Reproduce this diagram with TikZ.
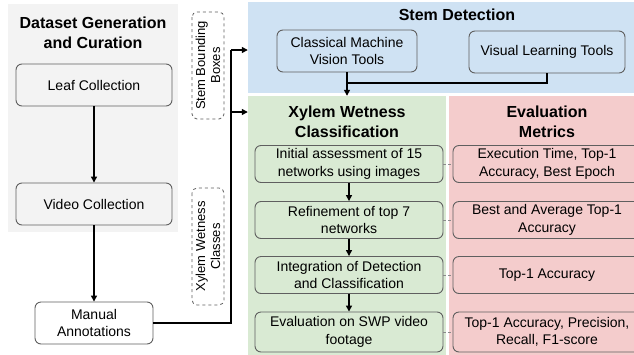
\documentclass[tikz,border=0pt]{standalone}
\usepackage{fontspec}
\setmainfont{Liberation Sans}
\usetikzlibrary{arrows.meta,calc}
\definecolor{graybg}{HTML}{F3F3F3}
\definecolor{bluebg}{HTML}{CFE2F3}
\definecolor{greenbg}{HTML}{D9EAD3}
\definecolor{redbg}{HTML}{F4CCCC}
\definecolor{boxline}{HTML}{5F5F5F}
\definecolor{dashgray}{HTML}{8A8A8A}
\tikzset{
  panel/.style={draw=none, inner sep=0pt, anchor=center},
  box/.style={draw=boxline, line width=0.9pt, rounded corners=6pt, align=center, inner sep=0pt,
    font=\fontsize{14}{17.5}\selectfont},
  lbl/.style={align=center, inner sep=0pt, font=\fontsize{14}{17.5}\selectfont},
  dbox/.style={draw=boxline, dashed, line width=0.8pt, rounded corners=5pt, align=center, inner sep=0pt,
    rotate=90, font=\fontsize{13}{15}\selectfont},
  title/.style={align=center, inner sep=0pt, font=\fontsize{16}{20}\selectfont\bfseries},
  conn/.style={draw=black, line width=1.3pt},
  arr/.style={conn, -{Triangle[length=6pt,width=6pt]}},
  dline/.style={draw=dashgray, dashed, line width=0.6pt, dash pattern=on 3pt off 2pt}
}
\begin{document}
\begin{tikzpicture}[x=1pt,y=-1pt]
\useasboundingbox (0,0) rectangle (634,354);
\fill[white] (0,0) rectangle (634,354);
\begin{scope}
\clip (0,0) rectangle (634,354);
% panels
\node[panel, fill=graybg, minimum width=170pt, minimum height=228pt] (gray) at (93,118) {};
\node[panel, fill=bluebg, minimum width=400pt, minimum height=91pt] (blue) at (448,47.5) {};
\node[panel, fill=greenbg, minimum width=198pt, minimum height=260pt] (green) at (347,226) {};
\node[panel, fill=redbg, minimum width=211pt, minimum height=260pt] (red) at (554.5,226) {};
% titles
\node[title] (t1) at (93,33) {Dataset Generation\\and Curation};
\node[title] (t2) at (457,15) {Stem Detection};
\node[title] (t3) at (347,122) {Xylem Wetness\\Classification};
\node[title] (t4) at (547,122) {Evaluation\\Metrics};
% left column
\node[box, fill=graybg, minimum width=156pt, minimum height=42pt] (leaf) at (94,85) {Leaf Collection};
\node[box, fill=graybg, minimum width=156pt, minimum height=42pt] (video) at (94,204) {Video Collection};
\node[box, fill=white, minimum width=118pt, minimum height=42pt] (manual) at (94,323) {Manual\\Annotations};
% dashed labels
\node[dbox, minimum width=107pt, minimum height=32pt] (sbb) at (208,65.5) {Stem Bounding\\Boxes};
\node[dbox, minimum width=117pt, minimum height=32pt] (xwc) at (208,246.5) {Xylem Wetness\\Classes};
% stem detection boxes
\node[box, minimum width=140pt, minimum height=42pt] (classical) at (347,51) {Classical Machine\\Vision Tools};
\node[box, minimum width=156pt, minimum height=42pt] (visual) at (547,52) {Visual Learning Tools};
% green boxes
\node[box, minimum width=188pt, minimum height=37pt] (g1) at (349,164) {Initial assessment of 15\\networks using images};
\node[box, minimum width=188pt, minimum height=37pt] (g2) at (349,220) {Refinement of top 7\\networks};
\node[box, minimum width=188pt, minimum height=37pt] (g3) at (349,275) {Integration of Detection\\and Classification};
\node[box, minimum width=188pt, minimum height=40pt] (g4) at (349,332) {Evaluation on SWP video\\footage};
% red boxes (run past the right edge); texts centred at x=547
\node[box, minimum width=207pt, minimum height=37pt] (r1) at (556.5,164) {};
\node[box, minimum width=207pt, minimum height=37pt] (r2) at (556.5,220) {};
\node[box, minimum width=207pt, minimum height=37pt] (r3) at (556.5,275) {};
\node[box, minimum width=207pt, minimum height=40pt] (r4) at (556.5,332) {};
\node[lbl] (r1t) at (547,164) {Execution Time, Top-1\\Accuracy, Best Epoch};
\node[lbl] (r2t) at (547,220) {Best and Average Top-1\\Accuracy};
\node[lbl] (r3t) at (547,275) {Top-1 Accuracy};
\node[lbl] (r4t) at (547,332) {Top-1 Accuracy, Precision,\\Recall, F1-score};
% connectors left
\draw[arr] (leaf.south) -- (video.north);
\draw[arr] (video.south) -- (manual.north);
\coordinate (j1) at (231,50);
\coordinate (j2) at (231,112);
\draw[conn] (manual.east) -| (j1);
\draw[arr] (j1) -- (j1 -| blue.west);
\draw[arr] (j2) -- (j2 -| green.west);
% stem detection connectors
\coordinate (jc) at (347,83);
\draw[conn] (visual.south) |- (jc);
\draw[arr] (classical.south) -- (classical.south |- green.north);
% green arrows
\draw[arr] (g1.south) -- (g2.north);
\draw[arr] (g2.south) -- (g3.north);
\draw[arr] (g3.south) -- (g4.north);
% dashed links
\draw[dline] (g1.east) -- (r1.west);
\draw[dline] (g2.east) -- (r2.west);
\draw[dline] (g3.east) -- (r3.west);
\draw[dline] (g4.east) -- (r4.west);
\end{scope}
\end{tikzpicture}
\end{document}
